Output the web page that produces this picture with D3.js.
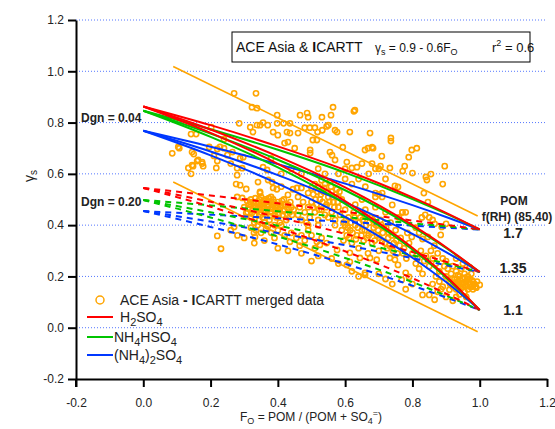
<!DOCTYPE html>
<html><head><meta charset="utf-8">
<script src="https://cdn.jsdelivr.net/npm/d3@7"></script>
<style>
body{margin:0;background:#fff;}
text{font-family:"Liberation Sans",Arial,Helvetica,sans-serif;}
</style></head>
<body><svg id="c" width="555" height="429"></svg>
<script>
// ---------- data ----------
const yTicks = [-0.2,0.0,0.2,0.4,0.6,0.8,1.0,1.2];
const yTickLabels = ["-0.2","0.0","0.2","0.4","0.6","0.8","1.0","1.2"];
const xTicks = [-0.2,0.0,0.2,0.4,0.6,0.8,1.0,1.2];
const xTickLabels = ["-0.2","0.0","0.2","0.4","0.6","0.8","1.0","1.2"];
const gridValues = [0.0,0.2,0.4,0.6,0.8,1.0,1.2];

const fGrid = [0,0.2,0.4,0.6,0.8,0.9,1.0];
const pomLabels = ["1.7","1.35","1.1"];
// Dgn = 0.04 (solid), one row per POM f(RH)
const solidH2SO4 = [
  [0.863,0.790,0.707,0.615,0.508,0.448,0.383],
  [0.863,0.773,0.668,0.547,0.400,0.314,0.217],
  [0.863,0.760,0.639,0.494,0.312,0.201,0.069]];
const solidNH4HSO4 = [
  [0.846,0.774,0.694,0.605,0.502,0.445,0.383],
  [0.846,0.757,0.655,0.536,0.394,0.311,0.217],
  [0.846,0.744,0.625,0.483,0.305,0.196,0.069]];
const solidAS = [
  [0.768,0.706,0.638,0.562,0.478,0.432,0.383],
  [0.768,0.687,0.595,0.489,0.366,0.295,0.217],
  [0.768,0.672,0.562,0.432,0.273,0.178,0.069]];
// Dgn = 0.20 (dashed)
const dashH2SO4 = [
  [0.545,0.516,0.485,0.452,0.418,0.401,0.383],
  [0.545,0.491,0.431,0.366,0.295,0.257,0.217],
  [0.545,0.472,0.390,0.298,0.193,0.133,0.069]];
const dashNH4HSO4 = [
  [0.498,0.477,0.454,0.431,0.407,0.395,0.383],
  [0.498,0.450,0.398,0.343,0.282,0.250,0.217],
  [0.498,0.430,0.356,0.272,0.178,0.125,0.069]];
const dashAS = [
  [0.455,0.441,0.427,0.413,0.398,0.390,0.383],
  [0.455,0.414,0.369,0.322,0.271,0.244,0.217],
  [0.455,0.393,0.325,0.249,0.164,0.118,0.069]];

// orange bounding lines [F, gamma] endpoints
const upperBoundF = [0.089,0.994], upperBoundG = [1.019,0.436];
const lowerBoundF = [0.089,0.994], lowerBoundG = [0.568,-0.016];

// ACE Asia - ICARTT merged data [F_O, gamma_s]
const obs = [
[0.086,0.68],[0.104,0.705],[0.107,0.70],[0.134,0.623],[0.142,0.60],[0.145,0.634],[0.148,0.63],[0.142,0.755],[0.157,0.755],[0.145,0.685],
[0.150,0.677],[0.16,0.65],[0.163,0.654],[0.175,0.64],[0.178,0.63],[0.175,0.646],[0.202,0.782],[0.196,0.705],[0.228,0.705],[0.22,0.697],
[0.217,0.623],[0.22,0.65],[0.25,0.673],[0.24,0.70],[0.27,0.914],[0.285,0.797],[0.279,0.595],[0.288,0.661],[0.297,0.665],[0.279,0.622],
[0.294,0.622],[0.288,0.556],[0.276,0.56],[0.279,0.51],[0.294,0.506],[0.22,0.358],[0.231,0.308],[0.27,0.393],[0.26,0.64],[0.265,0.685],
[0.24,0.735],[0.21,0.67],
[0.318,0.782],[0.323,0.86],[0.335,0.914],[0.338,0.856],[0.326,0.763],[0.338,0.79],[0.398,0.829],[0.466,0.829],[0.487,0.837],[0.49,0.821],
[0.531,0.821],[0.564,0.86],[0.558,0.829],[0.626,0.844],[0.347,0.79],[0.356,0.80],[0.37,0.79],[0.386,0.763],[0.40,0.751],[0.398,0.797],
[0.417,0.797],[0.436,0.797],[0.427,0.763],[0.436,0.759],[0.42,0.72],[0.43,0.724],[0.46,0.759],[0.48,0.78],[0.495,0.78],[0.51,0.78],
[0.518,0.763],[0.532,0.77],[0.545,0.785],[0.55,0.79],[0.504,0.732],[0.516,0.732],[0.57,0.77],[0.576,0.763],[0.614,0.763],[0.674,0.759],
[0.496,0.693],[0.496,0.681],[0.555,0.685],[0.561,0.673],[0.593,0.704],[0.57,0.654],[0.605,0.646],[0.62,0.623],[0.635,0.626],[0.659,0.693],
[0.668,0.70],[0.68,0.704],[0.356,0.626],[0.368,0.615],[0.341,0.568],[0.371,0.576],[0.383,0.568],[0.347,0.525],[0.386,0.545],[0.397,0.54],
[0.41,0.55],[0.445,0.54],[0.457,0.545],[0.47,0.545],[0.43,0.518],[0.46,0.51],[0.49,0.525],[0.309,0.494],[0.326,0.49],[0.332,0.471],
[0.306,0.447],[0.306,0.541],[0.32,0.39],[0.329,0.37],[0.332,0.354],[0.347,0.53],[0.38,0.66],[0.45,0.70],[0.52,0.62],[0.54,0.60],
[0.58,0.60],[0.60,0.58],[0.44,0.62],[0.47,0.60],[0.41,0.60],
[0.30,0.47],[0.31,0.45],[0.315,0.48],[0.32,0.50],[0.325,0.46],[0.33,0.44],[0.335,0.49],[0.34,0.47],[0.345,0.50],[0.35,0.45],
[0.352,0.48],[0.355,0.43],[0.36,0.47],[0.362,0.50],[0.365,0.44],[0.37,0.46],[0.372,0.49],[0.375,0.42],[0.38,0.45],[0.383,0.48],
[0.386,0.50],[0.39,0.44],[0.393,0.47],[0.396,0.43],[0.40,0.49],[0.403,0.46],[0.406,0.41],[0.41,0.48],[0.414,0.44],[0.418,0.50],
[0.42,0.46],[0.425,0.42],[0.43,0.48],[0.435,0.45],[0.44,0.47],[0.345,0.42],[0.36,0.41],[0.33,0.41],[0.38,0.51],[0.35,0.51],
[0.39,0.40],[0.41,0.40],[0.37,0.395],[0.34,0.40],[0.32,0.43],
[0.312,0.465],[0.318,0.49],[0.322,0.445],[0.328,0.475],[0.333,0.505],[0.338,0.455],[0.343,0.485],[0.348,0.44],[0.353,0.465],[0.358,0.495],
[0.363,0.455],[0.368,0.48],[0.373,0.505],[0.377,0.435],[0.382,0.465],[0.388,0.49],[0.392,0.455],[0.397,0.48],[0.402,0.44],[0.407,0.47],
[0.412,0.495],[0.416,0.455],[0.422,0.48],[0.427,0.445],[0.432,0.465],[0.437,0.49],[0.442,0.44],[0.447,0.46],[0.36,0.455],[0.37,0.475],
[0.38,0.49],[0.39,0.46],[0.40,0.47],[0.355,0.49],[0.345,0.46],[0.335,0.47],
[0.335,0.38],[0.35,0.37],[0.365,0.385],[0.38,0.37],[0.39,0.35],[0.40,0.38],[0.42,0.36],[0.436,0.335],[0.44,0.37],[0.455,0.35],
[0.465,0.32],[0.47,0.36],[0.48,0.34],[0.49,0.38],[0.50,0.36],[0.516,0.335],[0.525,0.323],[0.51,0.31],[0.53,0.35],[0.545,0.33],
[0.46,0.44],[0.465,0.47],[0.47,0.42],[0.475,0.49],[0.48,0.45],[0.485,0.41],[0.49,0.47],[0.495,0.43],[0.50,0.49],[0.505,0.52],
[0.51,0.45],[0.515,0.48],[0.52,0.42],[0.52,0.55],[0.525,0.50],[0.53,0.46],[0.535,0.53],[0.54,0.44],[0.545,0.48],[0.55,0.51],
[0.555,0.57],[0.56,0.45],[0.565,0.49],[0.57,0.42],[0.575,0.54],[0.58,0.47],[0.585,0.44],[0.59,0.50],[0.595,0.41],[0.60,0.46],
[0.53,0.575],[0.51,0.56],[0.54,0.56],[0.50,0.545],[0.56,0.53],[0.58,0.51],[0.55,0.43],[0.52,0.40],[0.57,0.40],[0.49,0.40],
[0.505,0.47],[0.512,0.50],[0.518,0.53],[0.523,0.46],[0.528,0.52],[0.533,0.49],[0.538,0.545],[0.543,0.47],[0.548,0.53],[0.553,0.49],
[0.558,0.55],[0.563,0.51],[0.568,0.47],[0.573,0.52],[0.578,0.49],[0.583,0.53],
[0.59,0.38],[0.595,0.34],[0.60,0.40],[0.605,0.36],[0.61,0.43],[0.614,0.292],[0.615,0.38],[0.62,0.33],[0.625,0.45],[0.63,0.40],
[0.635,0.36],[0.64,0.31],[0.645,0.43],[0.65,0.38],[0.655,0.34],[0.66,0.46],[0.662,0.40],[0.668,0.29],[0.67,0.36],[0.675,0.43],
[0.68,0.33],[0.685,0.39],[0.69,0.47],[0.695,0.36],[0.70,0.30],[0.705,0.42],[0.71,0.34],[0.715,0.39],[0.72,0.45],[0.725,0.31],
[0.73,0.37],[0.735,0.41],[0.74,0.479],[0.745,0.33],[0.75,0.38],[0.755,0.29],[0.76,0.43],[0.765,0.35],[0.77,0.45],[0.775,0.31],
[0.78,0.45],[0.785,0.37],[0.79,0.33],[0.798,0.354],[0.659,0.206],[0.659,0.214],[0.674,0.272],[0.694,0.265],[0.733,0.272],[0.748,0.265],
[0.757,0.245],[0.768,0.187],[0.78,0.214],[0.79,0.198],[0.605,0.245],[0.614,0.257],[0.644,0.272],[0.576,0.303],[0.63,0.48],[0.65,0.50],
[0.69,0.51],[0.70,0.52],[0.71,0.51],[0.748,0.553],[0.757,0.549],
[0.602,0.42],[0.608,0.39],[0.612,0.35],[0.618,0.41],[0.622,0.37],[0.628,0.43],[0.632,0.345],[0.638,0.39],[0.642,0.41],[0.648,0.36],
[0.652,0.42],[0.658,0.38],[0.665,0.35],[0.672,0.41],[0.678,0.37],[0.682,0.42],[0.688,0.34],[0.692,0.40],[0.698,0.38],[0.702,0.35],
[0.708,0.40],[0.712,0.37],[0.718,0.33],[0.722,0.39],[0.728,0.35],[0.732,0.32],[0.738,0.36],[0.742,0.30],[0.752,0.34],[0.762,0.32],
[0.772,0.29],[0.782,0.27],
[0.80,0.29],[0.81,0.25],[0.815,0.27],[0.82,0.23],[0.825,0.30],[0.83,0.346],[0.83,0.21],[0.835,0.26],[0.84,0.28],[0.846,0.354],
[0.85,0.24],[0.855,0.30],[0.86,0.27],[0.865,0.32],[0.87,0.25],[0.875,0.29],[0.88,0.22],[0.884,0.362],[0.887,0.393],[0.866,0.405],
[0.90,0.405],[0.89,0.27],[0.895,0.24],[0.828,0.43],[0.838,0.44],[0.85,0.43],[0.86,0.42],[0.77,0.45],[0.834,0.525],[0.846,0.49],
[0.89,0.56],[0.81,0.39],[0.82,0.37],
[0.866,0.109],[0.83,0.128],[0.85,0.128],[0.91,0.148],[0.88,0.18],[0.89,0.16],[0.90,0.20],[0.905,0.23],[0.91,0.18],[0.915,0.21],
[0.92,0.16],[0.92,0.24],[0.925,0.19],[0.93,0.22],[0.93,0.15],[0.935,0.18],[0.94,0.20],[0.94,0.17],[0.945,0.23],[0.95,0.16],
[0.95,0.19],[0.955,0.21],[0.955,0.14],[0.96,0.18],[0.96,0.165],[0.965,0.20],[0.965,0.15],[0.97,0.17],[0.97,0.19],[0.975,0.16],
[0.975,0.21],[0.98,0.18],[0.98,0.15],[0.985,0.17],[0.99,0.156],[1.0,0.167],[0.94,0.13],[0.93,0.12],[0.96,0.12],[0.90,0.12],
[0.92,0.105],[0.875,0.14],[0.885,0.15],[0.86,0.17],[0.87,0.20],[0.90,0.26],[0.93,0.27],[0.95,0.25],[0.97,0.235],
[0.912,0.17],[0.918,0.19],[0.922,0.175],[0.928,0.165],[0.932,0.19],[0.937,0.16],[0.942,0.185],[0.947,0.17],[0.952,0.175],[0.957,0.16],
[0.962,0.19],[0.967,0.175],[0.972,0.16],[0.977,0.185],[0.982,0.17],[0.987,0.16],[0.992,0.18],[0.945,0.155],[0.935,0.205],[0.955,0.195],
[0.736,0.74],[0.736,0.728],[0.683,0.70],[0.709,0.669],[0.798,0.693],[0.813,0.70],[0.789,0.665],[0.68,0.64],[0.69,0.62],[0.70,0.62],
[0.705,0.63],[0.733,0.623],[0.777,0.63],[0.771,0.611],[0.80,0.603],[0.84,0.588],[0.843,0.576],[0.855,0.599],[0.896,0.63],[0.629,0.848],
[0.69,0.525],[0.71,0.525],[0.62,0.56],[0.64,0.58],[0.66,0.55],[0.67,0.60],[0.72,0.58],[0.60,0.62],[0.65,0.64],
[0.26,0.38],[0.28,0.36],[0.30,0.35],[0.33,0.33],[0.36,0.34],[0.40,0.31],[0.43,0.30],[0.47,0.29],[0.52,0.28],[0.56,0.27],
[0.50,0.26],[0.58,0.25],[0.62,0.22],[0.64,0.20],[0.70,0.21],[0.72,0.19],[0.74,0.17],[0.80,0.17],[0.78,0.15]
];

// ---------- drawing ----------
const svg = d3.select("#c");
const x = d3.scaleLinear().domain([-0.2,1.2]).range([76,547]);
const y = d3.scaleLinear().domain([-0.2,1.2]).range([379,20]);
const RED="#ff0000", GREEN="#00c400", BLUE="#0038ff", ORANGE="#ffa500";

// grid
svg.append("g").selectAll("line").data(gridValues).join("line")
  .attr("x1",x(-0.2)).attr("x2",x(1.2)).attr("y1",d=>y(d)).attr("y2",d=>y(d))
  .attr("stroke","#5577ff").attr("stroke-width",1).attr("stroke-dasharray","1,2");

// data points
svg.append("g").selectAll("circle").data(obs).join("circle")
  .attr("cx",d=>x(d[0])).attr("cy",d=>y(d[1])).attr("r",2.6)
  .attr("fill","none").attr("stroke",ORANGE).attr("stroke-width",1.6);

// orange bounds
const bline = d3.line().x(d=>x(d[0])).y(d=>y(d[1]));
[[upperBoundF,upperBoundG],[lowerBoundF,lowerBoundG]].forEach(([fs,gs])=>{
  svg.append("path").attr("d",bline(fs.map((f,i)=>[f,gs[i]])))
    .attr("fill","none").attr("stroke",ORANGE).attr("stroke-width",1.6);
});

// model lines
const mline = d3.line().x((d,i)=>x(fGrid[i])).y(d=>y(d)).curve(d3.curveMonotoneX);
function drawSet(sets,color,dashed){
  sets.forEach(s=>{
    svg.append("path").attr("d",mline(s)).attr("fill","none")
      .attr("stroke",color).attr("stroke-width",2)
      .attr("stroke-dasharray",dashed?"6,5":null);
  });
}
drawSet(dashAS,BLUE,true);
drawSet(dashNH4HSO4,GREEN,true);
drawSet(dashH2SO4,RED,true);
drawSet(solidAS,BLUE,false);
drawSet(solidNH4HSO4,GREEN,false);
drawSet(solidH2SO4,RED,false);

// axes
const yAxis = d3.axisLeft(y).tickValues(yTicks).tickSize(8).tickSizeOuter(0)
  .tickFormat((d,i)=>yTickLabels[i]).tickPadding(4);
const gy = svg.append("g").attr("transform",`translate(${x(-0.2)},0)`).call(yAxis);
const xAxis = d3.axisBottom(x).tickValues(xTicks).tickSize(8).tickSizeOuter(0)
  .tickFormat((d,i)=>xTickLabels[i]).tickPadding(11);
const gx = svg.append("g").attr("transform",`translate(0,${y(-0.2)})`).call(xAxis);
[gx,gy].forEach(g=>{
  g.select(".domain").attr("stroke","#000").attr("stroke-width",2);
  g.selectAll(".tick line").attr("stroke","#000").attr("stroke-width",2);
  g.selectAll(".tick text").attr("font-size",12).attr("fill","#222")
    .attr("font-family","'Liberation Sans',Arial,sans-serif");
});
// left axis extends below bottom axis
svg.append("line").attr("x1",x(-0.2)).attr("x2",x(-0.2)).attr("y1",y(-0.2)).attr("y2",y(-0.2)+8)
  .attr("stroke","#000").attr("stroke-width",2);

// axis titles
svg.append("text").attr("transform","translate(34,176) rotate(-90)")
  .attr("text-anchor","middle").attr("font-size",14).attr("fill","#222")
  .html('γ<tspan font-size="10" dy="3">s</tspan>');
svg.append("text").attr("x",311).attr("y",421).attr("text-anchor","middle").attr("font-size",12).attr("fill","#222")
  .html('F<tspan font-size="9" dy="3">O</tspan><tspan dy="-3"> = POM / (POM + SO</tspan><tspan font-size="9" dy="3">4</tspan><tspan font-size="9" dy="-8">=</tspan><tspan dy="5">)</tspan>');

// title box
svg.append("rect").attr("x",232).attr("y",32).attr("width",298).attr("height",30)
  .attr("fill","#fff").attr("stroke","#000").attr("stroke-width",1);
svg.append("text").attr("x",236).attr("y",52).attr("font-size",14).attr("fill","#111")
  .html('ACE Asia &amp; <tspan font-weight="bold">I</tspan>CARTT');
svg.append("text").attr("x",375).attr("y",52).attr("font-size",12).attr("fill","#111")
  .html('γ<tspan font-size="9" dy="3">s</tspan><tspan dy="-3"> = 0.9 - 0.6F</tspan><tspan font-size="9" dy="3">O</tspan>');
svg.append("text").attr("x",492).attr("y",52).attr("font-size",13).attr("fill","#111")
  .html('r<tspan font-size="9" dy="-6">2</tspan><tspan dy="6"> = 0.6</tspan>');

// annotations
svg.append("text").attr("x",81).attr("y",122).attr("font-size",12).attr("font-weight","bold").attr("fill","#222").text("Dgn = 0.04");
svg.append("text").attr("x",81).attr("y",206).attr("font-size",12).attr("font-weight","bold").attr("fill","#222").text("Dgn = 0.20");
svg.append("text").attr("x",514).attr("y",205).attr("text-anchor","middle").attr("font-size",12).attr("font-weight","bold").attr("fill","#222").text("POM");
svg.append("text").attr("x",517).attr("y",221).attr("text-anchor","middle").attr("font-size",12).attr("font-weight","bold").attr("fill","#222").text("f(RH) (85,40)");
const pomY = [238,273,315];
pomLabels.forEach((t,i)=>svg.append("text").attr("x",513).attr("y",pomY[i]).attr("text-anchor","middle")
  .attr("font-size",14).attr("font-weight","bold").attr("fill","#222").text(t));

// legend
const lg = svg.append("g");
lg.append("circle").attr("cx",100).attr("cy",300).attr("r",4).attr("fill","none").attr("stroke",ORANGE).attr("stroke-width",1.5);
lg.append("text").attr("x",120).attr("y",305).attr("font-size",14).attr("fill","#222")
  .html('ACE Asia <tspan font-weight="bold">-</tspan> <tspan font-weight="bold">I</tspan>CARTT merged data');
const legItems = [
  {c:RED, y:317, tx:120, html:'H<tspan font-size="11" dy="4">2</tspan><tspan dy="-4">SO</tspan><tspan font-size="11" dy="4">4</tspan>'},
  {c:GREEN, y:337, tx:114, html:'NH<tspan font-size="11" dy="4">4</tspan><tspan dy="-4">HSO</tspan><tspan font-size="11" dy="4">4</tspan>'},
  {c:BLUE, y:355, tx:114, html:'(NH<tspan font-size="11" dy="4">4</tspan><tspan dy="-4">)</tspan><tspan font-size="11" dy="4">2</tspan><tspan dy="-4">SO</tspan><tspan font-size="11" dy="4">4</tspan>'}
];
legItems.forEach(it=>{
  lg.append("line").attr("x1",87).attr("x2",113).attr("y1",it.y).attr("y2",it.y).attr("stroke",it.c).attr("stroke-width",2);
  lg.append("text").attr("x",it.tx).attr("y",it.y+5).attr("font-size",14).attr("fill","#222").html(it.html);
});
</script></body></html>
